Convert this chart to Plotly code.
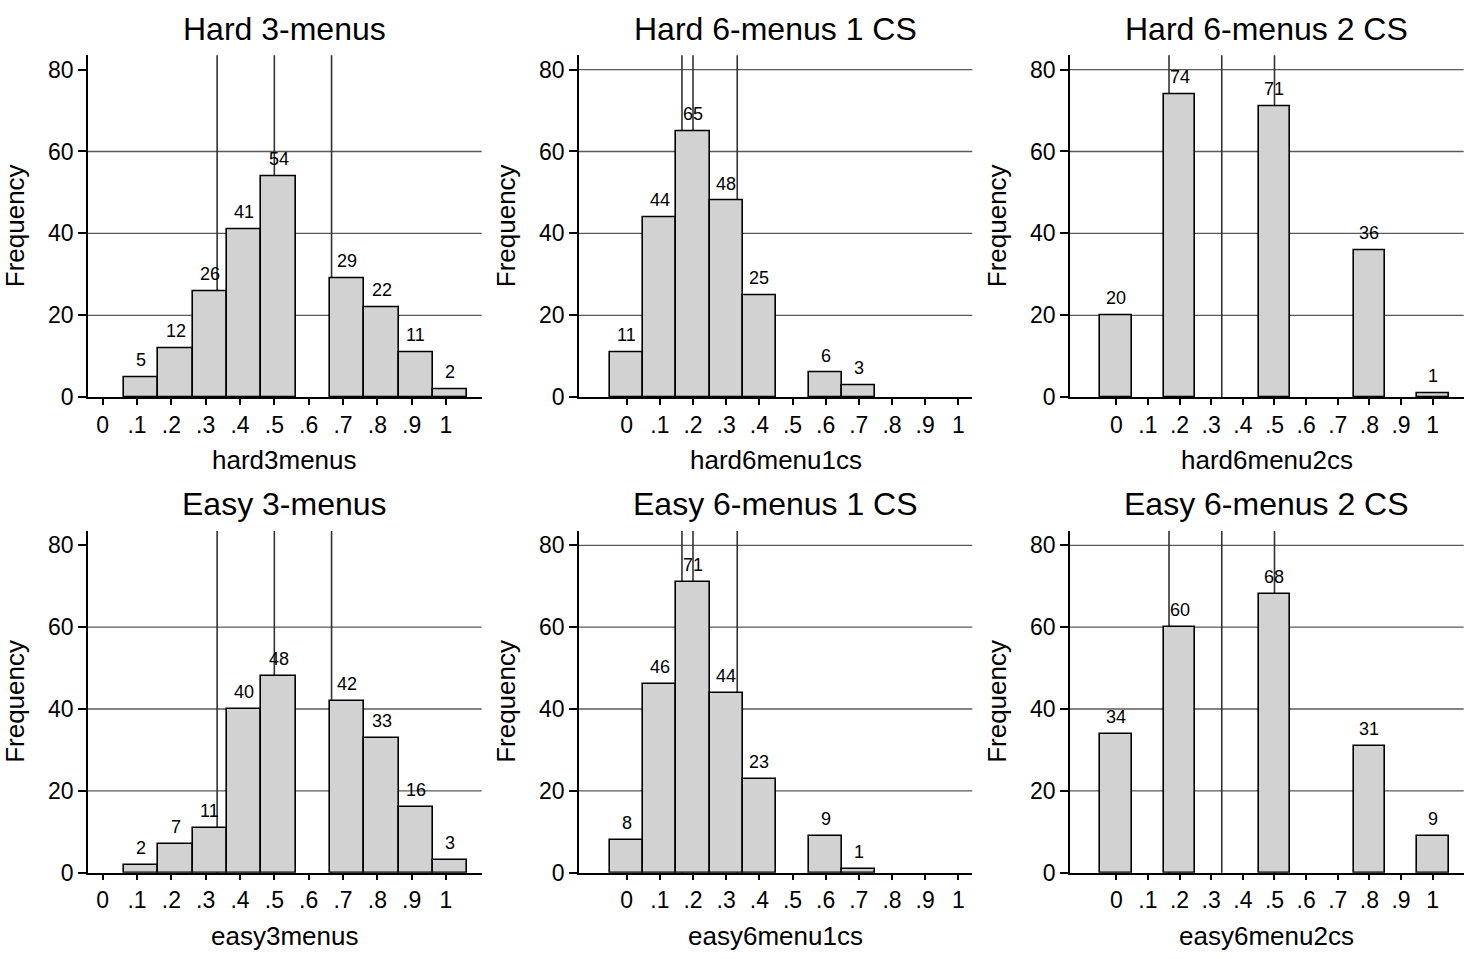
import plotly.graph_objects as go

# ---------------- data ----------------
titles = ["Hard 3-menus", "Hard 6-menus 1 CS", "Hard 6-menus 2 CS",
          "Easy 3-menus", "Easy 6-menus 1 CS", "Easy 6-menus 2 CS"]
var_names = ["hard3menus", "hard6menu1cs", "hard6menu2cs",
             "easy3menus", "easy6menu1cs", "easy6menu2cs"]

# bar centres
x_3menus = [0.1125, 0.2125, 0.3125, 0.4125, 0.5125, 0.7125, 0.8125, 0.9125, 1.0125]
x_6menu1cs = [0.0, 0.1, 0.2, 0.3, 0.4, 0.6, 0.7]
x_6menu2cs = [0.0, 0.2, 0.5, 0.8, 1.0]

hard3menus = [5, 12, 26, 41, 54, 29, 22, 11, 2]
hard6menu1cs = [11, 44, 65, 48, 25, 6, 3]
hard6menu2cs = [20, 74, 71, 36, 1]
easy3menus = [2, 7, 11, 40, 48, 42, 33, 16, 3]
easy6menu1cs = [8, 46, 71, 44, 23, 9, 1]
easy6menu2cs = [34, 60, 68, 31, 9]

# reference lines (xline)
lines_3menus = [1/3, 1/2, 2/3]
lines_6menu1cs = [1/6, 0.2, 1/3]
lines_6menu2cs = [1/6, 1/3, 1/2]

x_tickvals = [0, 0.1, 0.2, 0.3, 0.4, 0.5, 0.6, 0.7, 0.8, 0.9, 1.0]
x_ticktext = ["0", ".1", ".2", ".3", ".4", ".5", ".6", ".7", ".8", ".9", "1"]
y_tickvals = [0, 20, 40, 60, 80]
grid_3menus = [20, 40, 60]
grid_6menus = [20, 40, 60, 80]

panels = [
    (x_3menus, hard3menus, lines_3menus, grid_3menus),
    (x_6menu1cs, hard6menu1cs, lines_6menu1cs, grid_6menus),
    (x_6menu2cs, hard6menu2cs, lines_6menu2cs, grid_6menus),
    (x_3menus, easy3menus, lines_3menus, grid_3menus),
    (x_6menu1cs, easy6menu1cs, lines_6menu1cs, grid_6menus),
    (x_6menu2cs, easy6menu2cs, lines_6menu2cs, grid_6menus),
]

# ---------------- layout geometry (pixels) ----------------
W, H = 1472, 959
col_px = [(88, 481.7), (579, 972.3), (1070, 1463.7)]
row_px = [(56, 402.7), (538.3, 884.7)]
x_ranges = [(-0.0428, 1.104), (-0.1438, 1.0422), (-0.1463, 1.098)]
y_range = (0, 83.5)

FONT = "Liberation Sans, Arial, Helvetica, sans-serif"
fig = go.Figure()
layout = dict(
    width=W, height=H,
    margin=dict(l=0, r=0, t=0, b=0),
    paper_bgcolor="white", plot_bgcolor="white",
    showlegend=False,
    font=dict(family=FONT, color="black"),
    bargap=0,
)
shapes = []
annotations = []

for i, (xs, ys, vlines, grids) in enumerate(panels):
    r, c = divmod(i, 3)
    n = i + 1
    xa = "xaxis" if n == 1 else f"xaxis{n}"
    ya = "yaxis" if n == 1 else f"yaxis{n}"
    xref = "x" if n == 1 else f"x{n}"
    yref = "y" if n == 1 else f"y{n}"
    x0p, x1p = col_px[c]
    y0p, y1p = row_px[r]
    layout[xa] = dict(
        domain=[x0p / W, x1p / W], range=list(x_ranges[c]), anchor=yref,
        showline=True, linecolor="black", linewidth=1.5,
        ticks="outside", ticklen=6, tickwidth=1.5, tickcolor="black",
        tickvals=x_tickvals, ticktext=x_ticktext,
        tickfont=dict(size=23, family=FONT), showgrid=False, zeroline=False,
        fixedrange=True,
    )
    layout[ya] = dict(
        domain=[1 - y1p / H, 1 - y0p / H], range=list(y_range), anchor=xref,
        showline=True, linecolor="black", linewidth=1.5,
        ticks="outside", ticklen=8, tickwidth=1.5, tickcolor="black",
        tickvals=y_tickvals, tickfont=dict(size=23, family=FONT),
        showgrid=False, zeroline=False, fixedrange=True,
    )
    fig.add_trace(go.Bar(
        x=xs, y=ys, width=0.1, xaxis=xref, yaxis=yref,
        marker=dict(color="#d2d2d2", line=dict(color="black", width=1.6)),
        hoverinfo="x+y",
    ))
    for g in grids:
        shapes.append(dict(type="line", xref=f"{xref} domain", yref=yref,
                           x0=0, x1=1, y0=g, y1=g, layer="below",
                           line=dict(color="#5a5a5a", width=1.3)))
    for v in vlines:
        shapes.append(dict(type="line", xref=xref, yref=f"{yref} domain",
                           x0=v, x1=v, y0=0, y1=1, layer="below",
                           line=dict(color="#333333", width=1.6)))
    for xv, yv in zip(xs, ys):
        annotations.append(dict(x=xv, y=yv, xref=xref, yref=yref, text=str(yv),
                                showarrow=False, yanchor="bottom", yshift=5,
                                font=dict(size=18, family=FONT, color="black")))
    cx = (x0p + x1p) / 2
    # subplot title
    annotations.append(dict(x=cx / W, y=1 - (y0p - 27) / H, xref="paper", yref="paper",
                            text=titles[i], showarrow=False, xanchor="center",
                            yanchor="middle", font=dict(size=32, family=FONT)))
    # x-axis title
    annotations.append(dict(x=cx / W, y=1 - (y1p + 64) / H, xref="paper", yref="paper",
                            text=var_names[i], showarrow=False, xanchor="center",
                            yanchor="middle", font=dict(size=26, family=FONT)))
    # y-axis title
    annotations.append(dict(x=(x0p - 73) / W, y=1 - ((y0p + y1p) / 2) / H,
                            xref="paper", yref="paper", text="Frequency",
                            showarrow=False, textangle=-90, xanchor="center",
                            yanchor="middle", font=dict(size=26, family=FONT)))

layout["shapes"] = shapes
layout["annotations"] = annotations
fig.update_layout(**layout)

post_js = """
document.documentElement.style.margin='0';
document.documentElement.style.padding='0';
document.body.style.margin='0';
document.body.style.padding='0';
document.body.style.overflow='hidden';
document.documentElement.style.overflow='hidden';
var gd = document.getElementById('{plot_id}');
gd.style.position='fixed'; gd.style.left='0px'; gd.style.top='0px';
"""
fig.write_html(
    "out.html",
    config={"displayModeBar": False},
    post_script=post_js,
)
